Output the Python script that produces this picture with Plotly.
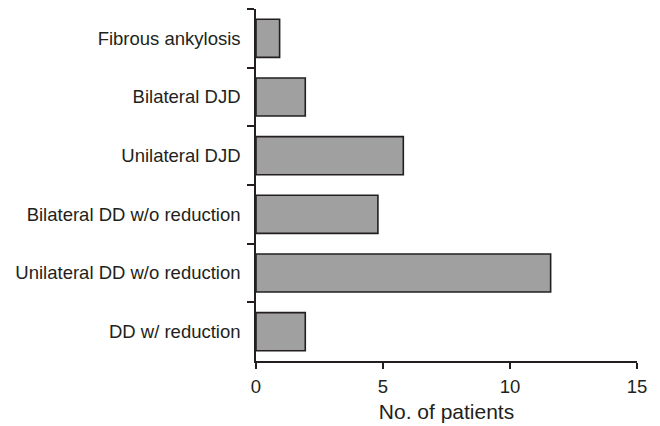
import plotly.graph_objects as go

categories = [
    "Fibrous ankylosis",
    "Bilateral DJD",
    "Unilateral DJD",
    "Bilateral DD w/o reduction",
    "Unilateral DD w/o reduction",
    "DD w/ reduction",
]
patients = [0.93, 1.94, 5.8, 4.8, 11.6, 1.94]
x_ticks = [0, 5, 10, 15]
x_title = "No. of patients"

ink = "#231f20"
font_family = "Liberation Sans, Arial, Helvetica, sans-serif"

fig = go.Figure(
    go.Bar(
        x=patients,
        y=categories,
        orientation="h",
        marker=dict(color="#a0a0a0", line=dict(color=ink, width=1.6)),
    )
)

fig.update_layout(
    width=660,
    height=426,
    margin=dict(l=256, r=23, t=9, b=65),
    paper_bgcolor="white",
    plot_bgcolor="white",
    bargap=0.35,
    showlegend=False,
    font=dict(family=font_family, color=ink, size=18.5),
)

fig.update_xaxes(
    automargin=False,
    range=[0, 15],
    tickvals=x_ticks,
    ticktext=[str(v) for v in x_ticks],
    ticks="outside",
    ticklen=6,
    tickwidth=1.5,
    tickcolor=ink,
    showline=True,
    linecolor=ink,
    linewidth=1.5,
    showgrid=False,
    zeroline=False,
    tickfont=dict(size=18.5),
    ticklabelstandoff=2,
    title=dict(text=x_title, font=dict(size=21), standoff=8),
)

fig.update_yaxes(
    automargin=False,
    type="category",
    autorange="reversed",
    tickson="boundaries",
    ticks="outside",
    ticklen=7,
    tickwidth=1.5,
    tickcolor=ink,
    showline=True,
    linecolor=ink,
    linewidth=1.5,
    showgrid=False,
    zeroline=False,
    tickfont=dict(size=18.5),
    ticklabelstandoff=10,
)

fig.write_html(
    "out.html",
    config={"displayModeBar": False},
    post_script="document.body.style.margin='0';document.body.style.overflow='hidden';",
)
